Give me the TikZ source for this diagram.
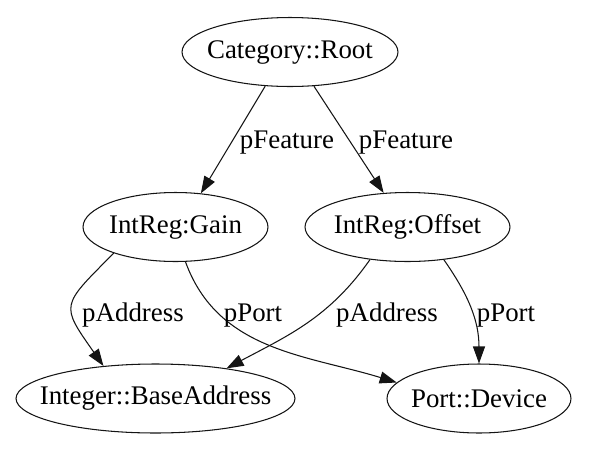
\documentclass[tikz,border=0pt]{standalone}
\usepackage{fontspec}
\setmainfont{Liberation Serif}
\usepackage{xcolor}
\usepackage{tikz}
\usetikzlibrary{arrows.meta,shapes.geometric}
\definecolor{cLine}{RGB}{20,20,20}

\begin{document}
\begin{tikzpicture}[x=0.02cm,y=-0.02cm,
   v/.style={draw,cLine,text=black,ellipse,line width=0.6pt,inner sep=0pt,minimum height=1.38cm,font=\fontsize{15.3}{18}\selectfont},
   a/.style={-{Triangle[length=0.34cm,width=0.24cm]},line width=0.6pt,cLine},
   lbl/.style={anchor=base,font=\fontsize{15.3}{18}\selectfont}]
  \useasboundingbox (0,0) rectangle (589,454);
  \node[v,minimum width=4.32cm] (root)   at (290,52)      {\makebox[0pt]{Category::Root}};
  \node[v,minimum width=3.7cm]  (gain)   at (175.5,227)   {\makebox[0pt]{IntReg:Gain}};
  \node[v,minimum width=4.1cm]  (offset) at (407.5,227)   {\makebox[0pt]{IntReg:Offset}};
  \node[v,minimum width=5.58cm] (base)   at (155.5,398.5) {\makebox[0pt]{Integer::BaseAddress}};
  \node[v,minimum width=3.68cm] (dev)    at (479,398.5)   {\makebox[0pt]{Port::Device}};
  % edges
  \draw[a] (root.234.5) -- (gain.53);
  \draw[a] (root.305.5) -- (offset.125);
  \draw[a] (gain.203) to[out=225,in=125,looseness=1.7] (base.148);
  \draw[a] (gain.286) to[out=290,in=163] (dev.169);
  \draw[a] (offset.221) to[out=235,in=28] (base.23);
  \draw[a] (offset.318) to[out=305,in=90] (dev.90);
  % edge labels
  \node[lbl] (lf1) at (287,148) {pFeature};
  \node[lbl] (lf2) at (406,148) {pFeature};
  \node[lbl] (la1) at (133,321) {pAddress};
  \node[lbl] (lp1) at (253,321) {pPort};
  \node[lbl] (la2) at (387,321) {pAddress};
  \node[lbl] (lp2) at (506,321) {pPort};
\end{tikzpicture}
\end{document}
